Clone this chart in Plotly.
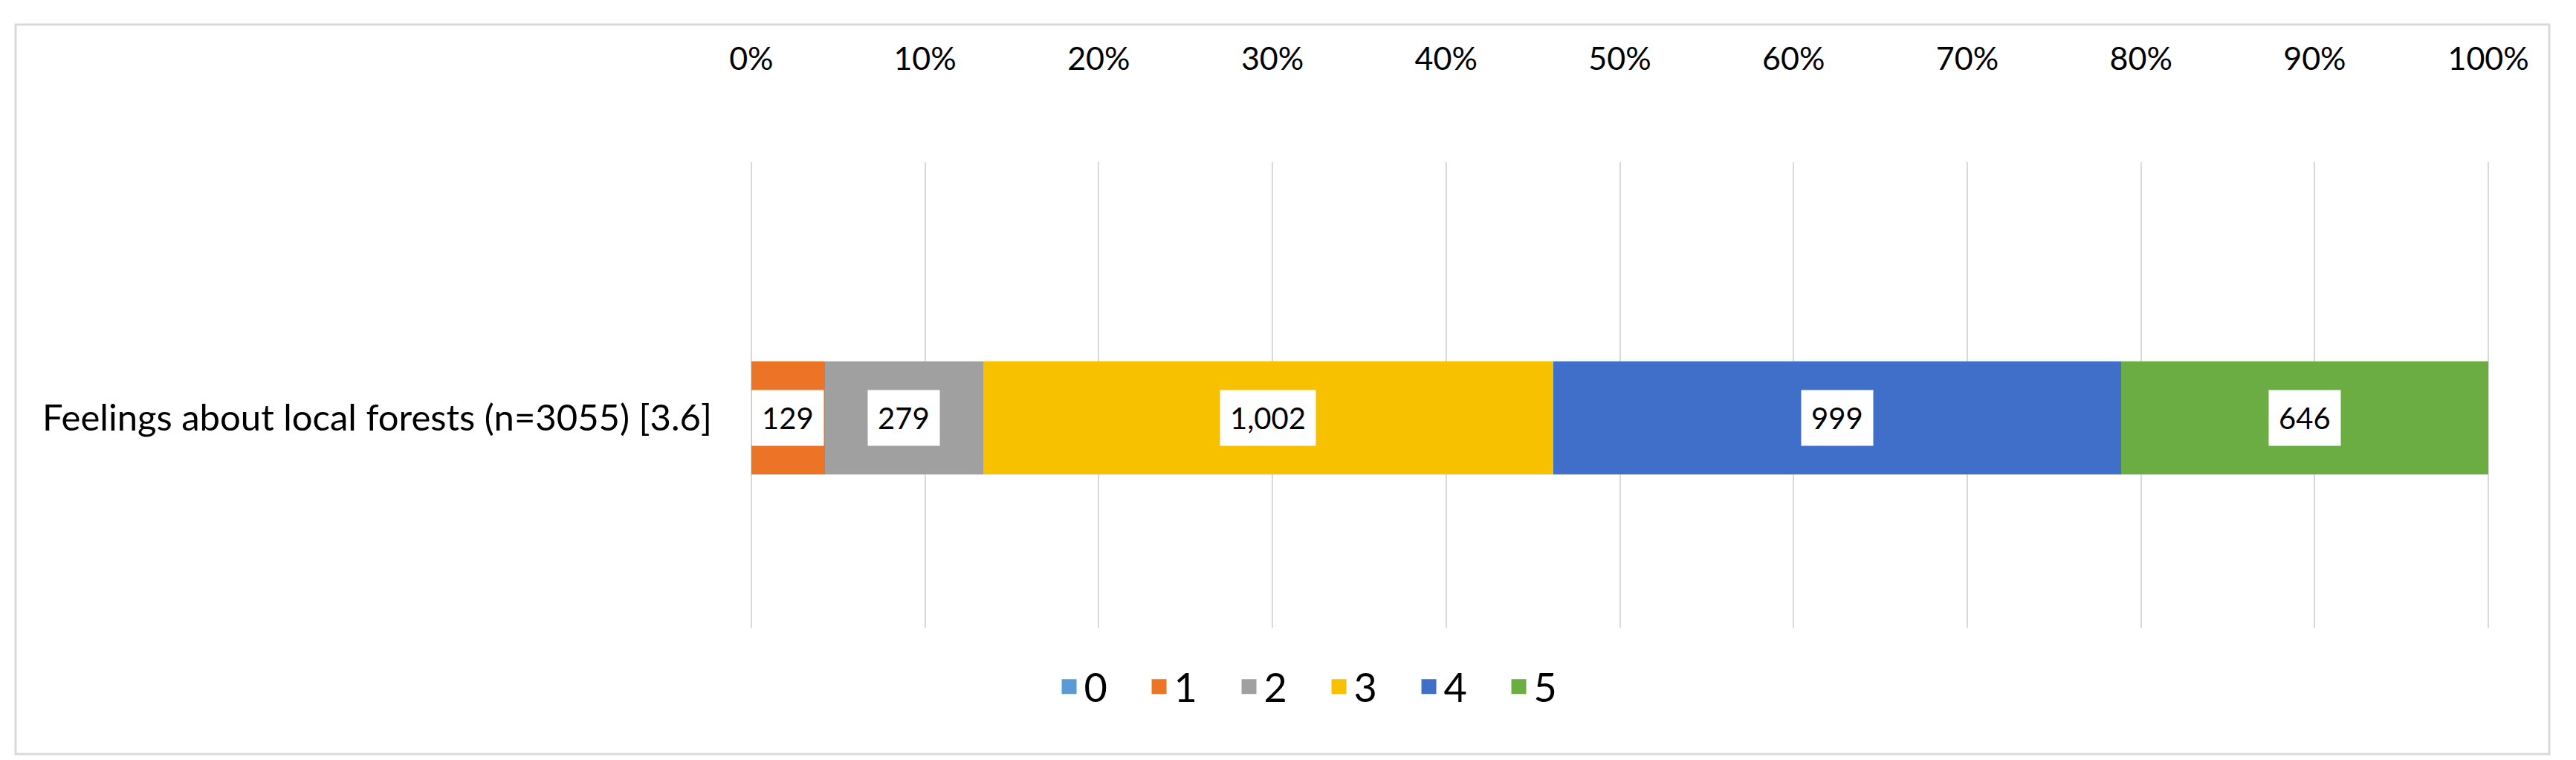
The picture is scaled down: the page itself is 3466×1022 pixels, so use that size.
import plotly.graph_objects as go

# survey data
category = "Feelings about local forests (n=3055) [3.6]"
scores = ["0", "1", "2", "3", "4", "5"]
counts = [0, 129, 279, 1002, 999, 646]
colors = ["#5B9BD5", "#EC7426", "#A0A0A0", "#F8C100", "#3F6FC8", "#6BAD42"]

total = sum(counts)
shares = [c / total for c in counts]

W, H = 3466, 1022
L, R, T, B = 1001, 124, 210, 186
pw, ph = W - L - R, H - T - B

fig = go.Figure()

# stacked segments
for s, v, col in zip(scores, shares, colors):
    fig.add_trace(go.Bar(
        y=[category], x=[v], name=s, orientation="h",
        marker=dict(color=col, line=dict(width=0)),
        width=0.243, showlegend=False, hoverinfo="skip",
    ))

# legend entries (bigger square swatches than bar legend)
for s, col in zip(scores, colors):
    fig.add_trace(go.Scatter(
        x=[None], y=[None], mode="markers", name=s,
        marker=dict(symbol="square", size=16, color=col,
                    line=dict(color=col, width=4)),
    ))

# white-boxed value labels centred in each segment
left = 0
for v, c in zip(shares, counts):
    if c > 0:
        fig.add_annotation(
            x=left + v / 2, y=category, text=f"{c:,}", showarrow=False,
            font=dict(size=40, color="#000000", family="Lato"),
            bgcolor="white", borderpad=13,
        )
    left += v

# outer chart border
fig.add_shape(
    type="rect", xref="paper", yref="paper",
    x0=(13 - L) / pw, x1=(3422 - L) / pw,
    y0=(H - B - 1006) / ph, y1=(H - B - 25) / ph,
    line=dict(color="#D9D9D9", width=3), fillcolor="rgba(0,0,0,0)",
    layer="below",
)

fig.update_layout(
    width=W, height=H,
    barmode="stack",
    plot_bgcolor="white", paper_bgcolor="white",
    margin=dict(l=L, r=R, t=T, b=B),
    font=dict(family="Lato", size=43, color="#000000"),
    showlegend=True,
    legend=dict(
        orientation="h", x=0.33, xanchor="center", y=-0.06, yanchor="top",
        font=dict(size=54), itemsizing="trace", entrywidth=76,
        entrywidthmode="pixels", traceorder="normal",
        bgcolor="rgba(0,0,0,0)",
    ),
    xaxis=dict(
        side="top", range=[-0.0008, 1.0008], dtick=0.1, tickformat=".0%",
        showgrid=True, gridcolor="#D9D9D9", gridwidth=2,
        zeroline=True, zerolinecolor="#D9D9D9", zerolinewidth=2,
        showline=False, ticks="",
        ticklabelstandoff=114, fixedrange=True,
    ),
    yaxis=dict(
        range=[-0.45, 0.55], showgrid=False, zeroline=False,
        showline=False, ticks="", ticklabelstandoff=50,
        tickfont=dict(size=49),
    ),
)

fig.write_html("out.html")
